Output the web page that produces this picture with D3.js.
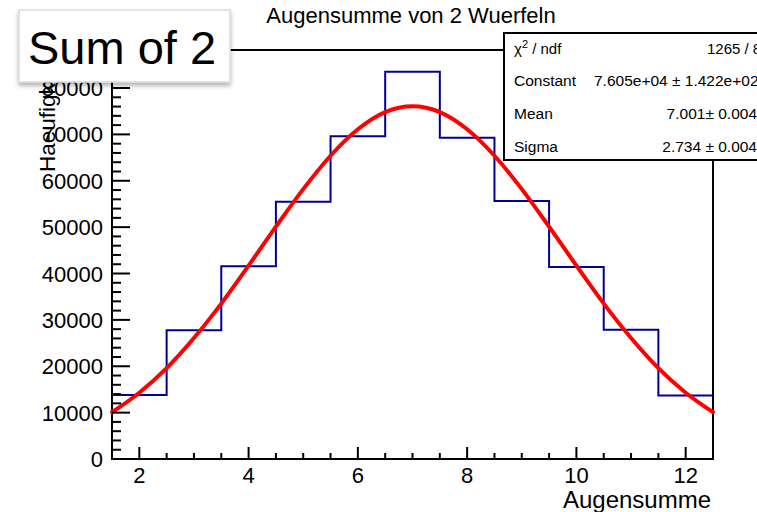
<!DOCTYPE html>
<html>
<head>
<meta charset="utf-8">
<script src="https://cdn.jsdelivr.net/npm/d3@7"></script>
<style>
  body { margin: 0; background: #fff; }
  svg { display: block; font-family: "Liberation Sans", Arial, Helvetica, sans-serif; }
</style>
</head>
<body>
<svg id="chart" width="757" height="512"></svg>
<script>
// bin centres (Augensumme) and entries per bin
const sums = [2, 3, 4, 5, 6, 7, 8, 9, 10, 11, 12];
const counts = [13800, 27750, 41550, 55500, 69600, 83500, 69300, 55650, 41400, 27850, 13700];

const fitX = [1.5, 2, 2.5, 3, 3.5, 4, 4.5, 5, 5.5, 6, 6.5, 7, 7.5, 8, 8.5, 9, 9.5, 10, 10.5, 11, 11.5, 12, 12.5];
const fitY = [10100, 14300, 19600, 26100, 33500, 41700, 50100, 58200, 65400, 71100, 74800, 76050,
              74800, 71100, 65400, 58200, 50100, 41700, 33500, 26100, 19600, 14300, 10100];

const xTicks = [2, 4, 6, 8, 10, 12];
const yTicks = [0, 10000, 20000, 30000, 40000, 50000, 60000, 70000, 80000];

const statLabels = ["Constant", "Mean", "Sigma"];
const statValues = ["7.605e+04 \u00b1 1.422e+02", "7.001\u00b1 0.004", "2.734 \u00b1 0.004"];

const svg = d3.select("#chart");
const frame = { left: 112, right: 713, top: 50, bottom: 459 };

const x = d3.scaleLinear().domain([1.5, 12.5]).range([frame.left, frame.right]);
const y = d3.scaleLinear().domain([0, 88200]).range([frame.bottom, frame.top]);

// frame
svg.append("rect")
    .attr("x", frame.left).attr("y", frame.top)
    .attr("width", frame.right - frame.left).attr("height", frame.bottom - frame.top)
    .attr("fill", "none").attr("stroke", "#000").attr("stroke-width", 2);

// histogram outline
const stepPts = [];
sums.forEach((s, i) => {
    stepPts.push([s - 0.5, counts[i]]);
    stepPts.push([s + 0.5, counts[i]]);
});
svg.append("path")
    .attr("d", d3.line().x(d => x(d[0])).y(d => y(d[1]))(stepPts))
    .attr("fill", "none").attr("stroke", "#000099").attr("stroke-width", 2);

// fit curve
svg.append("path")
    .attr("d", d3.line().x((d, i) => x(fitX[i])).y(d => y(d)).curve(d3.curveMonotoneX)(fitY))
    .attr("fill", "none").attr("stroke", "#ff0000").attr("stroke-width", 4)
    .attr("stroke-linecap", "round");

// x axis ticks
const xAxis = svg.append("g");
xAxis.selectAll("line.minor")
    .data(d3.range(2, 12.01, 0.5))
    .enter().append("line")
    .attr("x1", d => x(d)).attr("x2", d => x(d))
    .attr("y1", frame.bottom).attr("y2", d => frame.bottom - (d % 2 === 0 ? 12 : 6))
    .attr("stroke", "#000").attr("stroke-width", 2);
xAxis.selectAll("text")
    .data(xTicks)
    .enter().append("text")
    .attr("x", d => x(d)).attr("y", 483)
    .attr("text-anchor", "middle")
    .attr("font-size", 22)
    .text(d => d);

// y axis ticks
const yAxis = svg.append("g");
yAxis.selectAll("line")
    .data(d3.range(0, 88001, 2000))
    .enter().append("line")
    .attr("x1", frame.left).attr("x2", d => frame.left + (d % 10000 === 0 ? 18 : 9))
    .attr("y1", d => y(d)).attr("y2", d => y(d))
    .attr("stroke", "#000").attr("stroke-width", 2);
yAxis.selectAll("text")
    .data(yTicks)
    .enter().append("text")
    .attr("x", 103).attr("y", d => y(d) + 8)
    .attr("text-anchor", "end")
    .attr("font-size", 22)
    .text(d => d);

// axis titles
svg.append("text")
    .attr("x", 711).attr("y", 508)
    .attr("text-anchor", "end").attr("font-size", 24)
    .text("Augensumme");
svg.append("text")
    .attr("transform", "translate(55,172) rotate(-90)")
    .attr("font-size", 22.5)
    .text("Haeufigkeit");

// histogram title
svg.append("text")
    .attr("x", 411).attr("y", 23)
    .attr("text-anchor", "middle").attr("font-size", 22)
    .text("Augensumme von 2 Wuerfeln");

// stats box
const stats = svg.append("g");
stats.append("rect")
    .attr("x", 504).attr("y", 33).attr("width", 270).attr("height", 127)
    .attr("fill", "#fff").attr("stroke", "#000").attr("stroke-width", 2);
const chi = stats.append("text").attr("x", 514).attr("y", 54).attr("font-size", 15);
chi.append("tspan").text("\u03c7");
chi.append("tspan").attr("font-size", 11).attr("dy", -6).text("2");
chi.append("tspan").attr("dy", 6).text(" / ndf");
stats.append("text").attr("x", 707).attr("y", 54).attr("font-size", 15).text("1265 / 8");
stats.selectAll("text.lab")
    .data(statLabels)
    .enter().append("text")
    .attr("class", "lab")
    .attr("x", 514).attr("y", (d, i) => 86 + i * 33)
    .attr("font-size", 15.5)
    .text(d => d);
stats.selectAll("text.val")
    .data(statValues)
    .enter().append("text")
    .attr("class", "val")
    .attr("x", (d, i) => i === 0 ? 594 : 757)
    .attr("text-anchor", (d, i) => i === 0 ? "start" : "end")
    .attr("y", (d, i) => 86 + i * 33)
    .attr("font-size", 15.5)
    .text(d => d);

// "Sum of 2" label box with shadow
const defs = svg.append("defs");
const f = defs.append("filter").attr("id", "shadow").attr("x", "-10%").attr("y", "-10%")
    .attr("width", "120%").attr("height", "130%");
f.append("feDropShadow").attr("dx", 0).attr("dy", 3).attr("stdDeviation", 2)
    .attr("flood-color", "#000").attr("flood-opacity", 0.3);
svg.append("rect")
    .attr("x", 19).attr("y", 10).attr("width", 211).attr("height", 72)
    .attr("fill", "#fff").attr("stroke", "#dcdcdc").attr("stroke-width", 1.5)
    .attr("filter", "url(#shadow)");
svg.append("text")
    .attr("x", 28).attr("y", 64)
    .attr("font-size", 47)
    .text("Sum of 2");
</script>
</body>
</html>
